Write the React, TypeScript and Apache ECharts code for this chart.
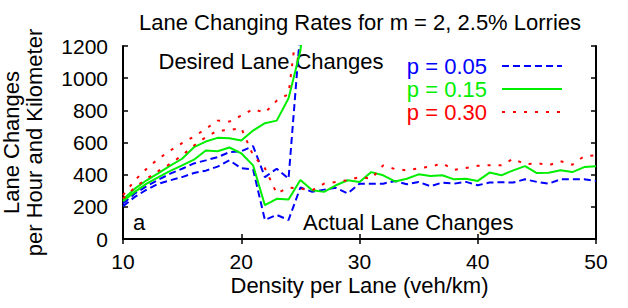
import React, { useEffect, useRef } from "react";
import * as echarts from "echarts";

// Densities (veh/km)
const densityDesired = [10, 11, 12, 13, 14, 15, 16, 17, 18, 19, 20, 21, 22, 23, 24, 25, 26];
const densityActual = [
  10, 11, 12, 13, 14, 15, 16, 17, 18, 19, 20, 21, 22, 23, 24, 25, 26, 27, 28, 29, 30,
  31, 32, 33, 34, 35, 36, 37, 38, 39, 40, 41, 42, 43, 44, 45, 46, 47, 48, 49, 50,
];

// Desired lane changes (per hour and km)
const desiredP005 = [221, 283, 328, 369, 406, 437, 470, 489, 509, 540, 545, 578, 385, 437, 375, 1300, 2000];
const desiredP015 = [245, 313, 365, 410, 456, 499, 571, 606, 629, 627, 612, 674, 720, 736, 875, 1170, 1800];
const desiredP030 = [272, 365, 437, 499, 550, 596, 637, 685, 736, 730, 767, 808, 785, 860, 901, 1500, 2000];

// Actual lane changes (per hour and km)
const actualP005 = [
  204, 262, 307, 344, 365, 385, 410, 425, 450, 489, 440, 433, 118, 150, 118, 320, 293, 307, 318, 283, 344,
  344, 344, 361, 340, 355, 328, 351, 344, 355, 334, 351, 353, 351, 371, 355, 344, 371, 371, 371, 361,
];
const actualP015 = [
  235, 293, 344, 385, 423, 458, 493, 550, 546, 569, 533, 458, 210, 250, 245, 367, 303, 293, 334, 365, 355,
  416, 396, 358, 375, 402, 392, 396, 371, 375, 361, 413, 396, 427, 453, 410, 412, 427, 416, 447, 453,
];
const actualP030 = [
  252, 320, 375, 423, 468, 520, 581, 633, 674, 677, 690, 520, 440, 283, 320, 313, 303, 344, 355, 365, 385,
  375, 458, 435, 427, 440, 450, 470, 430, 442, 455, 459, 458, 499, 464, 472, 458, 484, 462, 515, 520,
];

const legendNames = ["p = 0.05", "p = 0.15", "p = 0.30"];
const xTicks = [10, 20, 30, 40, 50];
const yTicks = [0, 200, 400, 600, 800, 1000, 1200];

const titleText = "Lane Changing Rates for m = 2, 2.5% Lorries";
const xName = "Density per Lane (veh/km)";
const yName1 = "Lane Changes";
const yName2 = "per Hour and Kilometer";
const desiredLabel = "Desired Lane Changes";
const actualLabel = "Actual Lane Changes";
const panelLabel = "a";

export default function App() {
  const ref = useRef<HTMLDivElement>(null);

  useEffect(() => {
    if (!ref.current) return;
    const chart = echarts.init(ref.current, null, { renderer: "svg" });
    const font = "'Liberation Sans', Arial, Helvetica, sans-serif";
    const colors = ["#0000ff", "#00ee00", "#ff0000"];
    const dashes: any[] = [[7, 4], "solid", [3, 8]];
    const desired = [desiredP005, desiredP015, desiredP030];
    const actual = [actualP005, actualP015, actualP030];

    const series: any[] = [];
    for (let i = 0; i < 3; i++) {
      const ls = { color: colors[i], width: 2, type: dashes[i] };
      series.push({
        name: legendNames[i],
        type: "line",
        data: densityDesired.map((x, k) => [x, desired[i][k]]),
        symbol: "none",
        showSymbol: false,
        clip: true,
        lineStyle: ls,
        itemStyle: { color: colors[i] },
        z: 2 + i,
      });
      series.push({
        name: legendNames[i],
        type: "line",
        data: densityActual.map((x, k) => [x, actual[i][k]]),
        symbol: "none",
        showSymbol: false,
        clip: true,
        lineStyle: ls,
        itemStyle: { color: colors[i] },
        z: 2 + i,
      });
    }

    const axisLine = { show: true, lineStyle: { color: "#000", width: 2 } };
    const axisTick = { show: true, inside: true, length: 5, lineStyle: { color: "#000", width: 1.5 } };
    const xMin = xTicks[0];
    const xMax = xTicks[xTicks.length - 1];
    const xInt = xTicks[1] - xTicks[0];
    const yMin = yTicks[0];
    const yMax = yTicks[yTicks.length - 1];
    const yInt = yTicks[1] - yTicks[0];

    const txt = (text: string, x: number, y: number, align: string, size: number, rotation = 0, fill = "#000") => ({
      type: "text",
      x,
      y,
      rotation,
      silent: true,
      style: { text, fontSize: size, fontFamily: font, fill, align, verticalAlign: "middle" },
    });

    chart.setOption({
      animation: false,
      grid: { left: 123, top: 46, width: 473, height: 193 },
      xAxis: [
        {
          type: "value",
          min: xMin,
          max: xMax,
          interval: xInt,
          position: "bottom",
          axisLine,
          axisTick,
          splitLine: { show: false },
          axisLabel: { fontSize: 21, color: "#000", fontFamily: font, margin: 12 },
        },
        {
          type: "value",
          min: xMin,
          max: xMax,
          interval: xInt,
          position: "top",
          axisLine,
          axisTick,
          splitLine: { show: false },
          axisLabel: { show: false },
        },
      ],
      yAxis: [
        {
          type: "value",
          min: yMin,
          max: yMax,
          interval: yInt,
          position: "left",
          axisLine,
          axisTick,
          splitLine: { show: false },
          axisLabel: {
            fontSize: 21,
            color: "#000",
            fontFamily: font,
            margin: 15,
            formatter: (v: number) => String(v),
          },
        },
        {
          type: "value",
          min: yMin,
          max: yMax,
          interval: yInt,
          position: "right",
          axisLine,
          axisTick,
          splitLine: { show: false },
          axisLabel: { show: false },
        },
      ],
      legend: {
        orient: "vertical",
        right: 60,
        top: 50,
        align: "right",
        itemWidth: 60,
        itemHeight: 14,
        itemGap: 1,
        selectedMode: false,
        itemStyle: { opacity: 0 },
        textStyle: { fontSize: 22, fontFamily: font, lineHeight: 22, padding: [0, 10, 0, 0] },
        data: legendNames.map((n, i) => ({ name: n, textStyle: { color: colors[i] } })),
      },
      graphic: [
        txt(titleText, 360, 22, "center", 22),
        txt(xName, 359.5, 285, "center", 22),
        txt(yName1, 11, 142.5, "center", 22, Math.PI / 2),
        txt(yName2, 34, 142.5, "center", 22, Math.PI / 2),
        txt(desiredLabel, 158.5, 61.5, "left", 22),
        txt(actualLabel, 303, 222.5, "left", 22),
        txt(panelLabel, 133, 222, "left", 22),
      ],
      series,
    });

    return () => chart.dispose();
  }, []);

  return (
    <div
      ref={ref}
      style={{ position: "absolute", left: 0, top: 0, width: 628, height: 308, background: "#fff" }}
    />
  );
}
